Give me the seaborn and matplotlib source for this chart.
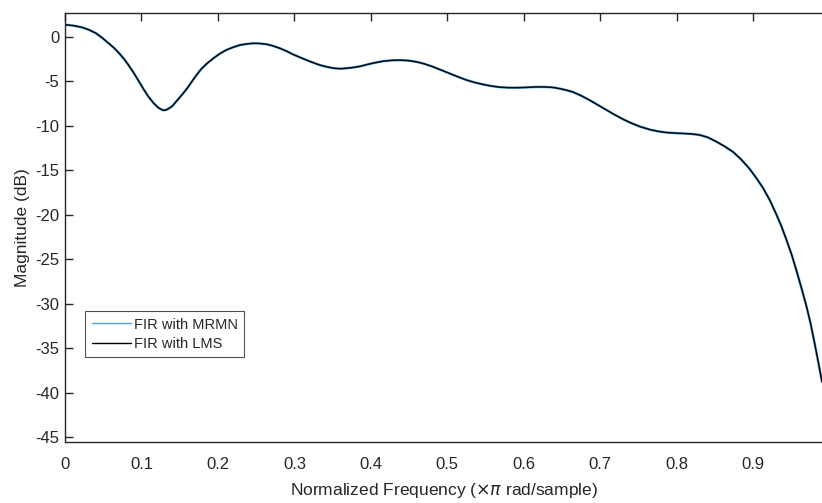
import matplotlib
matplotlib.use("Agg")
import matplotlib.pyplot as plt
import seaborn as sns

# Normalized frequency (x pi rad/sample)
freq = [0.000, 0.011, 0.022, 0.031, 0.040, 0.048, 0.057, 0.064, 0.070, 0.077,
        0.083, 0.090, 0.096, 0.103, 0.109, 0.116, 0.122, 0.126, 0.129, 0.133,
        0.140, 0.146, 0.153, 0.160, 0.166, 0.172, 0.178, 0.186, 0.194, 0.202,
        0.211, 0.220, 0.229, 0.238, 0.246, 0.255, 0.264, 0.272, 0.281, 0.290,
        0.298, 0.307, 0.316, 0.325, 0.333, 0.342, 0.351, 0.358, 0.364, 0.375,
        0.386, 0.394, 0.405, 0.416, 0.427, 0.438, 0.449, 0.460, 0.470, 0.481,
        0.492, 0.503, 0.514, 0.525, 0.536, 0.547, 0.558, 0.569, 0.580, 0.590,
        0.601, 0.612, 0.623, 0.634, 0.641, 0.647, 0.655, 0.664, 0.675, 0.686,
        0.697, 0.708, 0.719, 0.730, 0.741, 0.752, 0.765, 0.776, 0.787, 0.798,
        0.808, 0.819, 0.830, 0.841, 0.852, 0.863, 0.874, 0.884, 0.895, 0.904,
        0.913, 0.922, 0.930, 0.937, 0.943, 0.950, 0.956, 0.963, 0.970, 0.975,
        0.980, 0.985, 0.990]
# Magnitude (dB) for the two filters (the curves overlap)
mag_mrmn = [1.38, 1.28, 1.09, 0.82, 0.45, -0.05, -0.70, -1.22, -1.75, -2.45,
            -3.15, -4.05, -4.90, -5.90, -6.70, -7.45, -7.95, -8.15, -8.25, -8.18,
            -7.80, -7.20, -6.50, -5.75, -5.00, -4.28, -3.62, -2.95, -2.40, -1.90,
            -1.46, -1.15, -0.90, -0.78, -0.71, -0.73, -0.82, -1.00, -1.27, -1.60,
            -1.95, -2.28, -2.60, -2.90, -3.15, -3.35, -3.50, -3.56, -3.55, -3.45,
            -3.30, -3.12, -2.90, -2.72, -2.63, -2.60, -2.65, -2.80, -3.02, -3.34,
            -3.72, -4.10, -4.48, -4.84, -5.12, -5.34, -5.52, -5.65, -5.70, -5.70,
            -5.68, -5.63, -5.61, -5.64, -5.71, -5.81, -5.96, -6.18, -6.60, -7.10,
            -7.65, -8.20, -8.75, -9.26, -9.70, -10.08, -10.42, -10.62, -10.75, -10.81,
            -10.85, -10.90, -11.02, -11.30, -11.78, -12.32, -12.95, -13.75, -14.80, -15.85,
            -17.00, -18.40, -19.90, -21.30, -22.70, -24.40, -26.10, -28.20, -30.40, -32.20,
            -34.30, -36.50, -38.80]
mag_lms = [1.38, 1.28, 1.09, 0.82, 0.45, -0.05, -0.70, -1.22, -1.75, -2.45,
           -3.15, -4.05, -4.90, -5.90, -6.70, -7.45, -7.95, -8.15, -8.25, -8.18,
           -7.80, -7.20, -6.50, -5.75, -5.00, -4.28, -3.62, -2.95, -2.40, -1.90,
           -1.46, -1.15, -0.90, -0.78, -0.71, -0.73, -0.82, -1.00, -1.27, -1.60,
           -1.95, -2.28, -2.60, -2.90, -3.15, -3.35, -3.50, -3.56, -3.55, -3.45,
           -3.30, -3.12, -2.90, -2.72, -2.63, -2.60, -2.65, -2.80, -3.02, -3.34,
           -3.72, -4.10, -4.48, -4.84, -5.12, -5.34, -5.52, -5.65, -5.70, -5.70,
           -5.68, -5.63, -5.61, -5.64, -5.71, -5.81, -5.96, -6.18, -6.60, -7.10,
           -7.65, -8.20, -8.75, -9.26, -9.70, -10.08, -10.42, -10.62, -10.75, -10.81,
           -10.85, -10.90, -11.02, -11.30, -11.78, -12.32, -12.95, -13.75, -14.80, -15.85,
           -17.00, -18.40, -19.90, -21.30, -22.70, -24.40, -26.10, -28.20, -30.40, -32.20,
           -34.30, -36.50, -38.80]
series_labels = ["FIR with MRMN", "FIR with LMS"]
xticks = [0, 0.1, 0.2, 0.3, 0.4, 0.5, 0.6, 0.7, 0.8, 0.9]
xticklabels = ["0", "0.1", "0.2", "0.3", "0.4", "0.5", "0.6", "0.7", "0.8", "0.9"]
yticks = [0, -5, -10, -15, -20, -25, -30, -35, -40, -45]
yticklabels = ["0", "-5", "-10", "-15", "-20", "-25", "-30", "-35", "-40", "-45"]

sns.set_style("white")
plt.rcParams["font.family"] = ["Liberation Sans", "DejaVu Sans"]

W, H = 822, 503
fig = plt.figure(figsize=(W / 100, H / 100), dpi=100)
ax = fig.add_axes([65 / W, 1 - 442 / H, (822 - 65) / W, (442 - 13) / H])

sns.lineplot(x=freq, y=mag_mrmn, ax=ax, color="#4d9fdb", linewidth=1.8,
             label=series_labels[0], sort=False)
sns.lineplot(x=freq, y=mag_lms, ax=ax, color="#000000", linewidth=1.0,
             label=series_labels[1], sort=False)
for ln in ax.get_lines():
    ln.set_solid_joinstyle("round")

ax.set_xlim(0, 0.99)
ax.set_ylim(-45.56, 2.7)
ax.set_xticks(xticks)
ax.set_xticklabels(xticklabels)
ax.set_yticks(yticks)
ax.set_yticklabels(yticklabels)

for side in ["left", "bottom", "top"]:
    ax.spines[side].set_visible(True)
    ax.spines[side].set_color("#262626")
    ax.spines[side].set_linewidth(1.0)
ax.spines["right"].set_visible(False)

ax.tick_params(axis="both", direction="in", length=6, width=1.0,
               colors="#262626", labelsize=12, labelcolor="#262626")
ax.tick_params(axis="x", top=True, pad=11)
ax.tick_params(axis="y", left=True, pad=4)

ax.set_xlabel("Normalized Frequency ($\\times\\pi$ rad/sample)", fontsize=12.5,
              color="#262626", labelpad=6)
ax.set_ylabel("Magnitude (dB)", fontsize=12.5, color="#262626", labelpad=4)

leg = ax.legend(loc="upper left", bbox_to_anchor=(85 / W, 1 - 311 / H),
                bbox_transform=fig.transFigure, borderaxespad=0,
                frameon=True, fancybox=False, fontsize=10.5,
                handlelength=2.7, handletextpad=0.2, borderpad=0.45,
                labelspacing=0.35)
leg.get_frame().set_edgecolor("#262626")
leg.get_frame().set_linewidth(0.8)
leg.legend_handles[0].set_linewidth(1.0)

fig.savefig("out.png", dpi=100)
